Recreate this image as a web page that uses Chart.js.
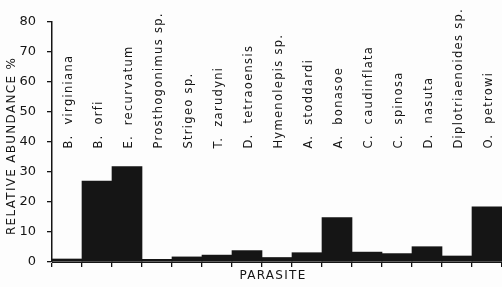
<!DOCTYPE html>
<html>
<head>
<meta charset="utf-8">
<script src="https://cdn.jsdelivr.net/npm/chart.js@4/dist/chart.umd.min.js"></script>
<style>
html,body{margin:0;padding:0;background:#fdfdfd;}
#wrap{width:502px;height:287px;position:relative;}
</style>
</head>
<body>
<div id="wrap"><canvas id="c" width="502" height="287"></canvas></div>
<script>
const categories = ["B.  virginiana","B.  orfi","E.  recurvatum","Prosthogonimus sp.","Strigeo sp.","T.  zarudyni","D.  tetraoensis","Hymenolepis sp.","A.  stoddardi","A.  bonasoe","C.  caudinflata","C.  spinosa","D.  nasuta","Diplotriaenoides sp.","O.  petrowi"];
const abundance = [1.0, 27.0, 31.8, 0.9, 1.7, 2.3, 3.8, 1.5, 3.1, 14.8, 3.3, 2.8, 5.1, 2.0, 18.4];
const yMin = 0, yMax = 80, yStep = 10;
const yTitle = "RELATIVE ABUNDANCE %";
const xTitle = "PARASITE";

const FONT = "'DejaVu Sans', sans-serif";
const INK = "#151515";

const catLabels = {
  id: 'catLabels',
  afterDatasetsDraw(chart) {
    const ctx = chart.ctx;
    const xs = chart.scales.x;
    const ys = chart.scales.y;
    const baseY = ys.getPixelForValue(37.8);
    ctx.save();
    ctx.fillStyle = INK;
    ctx.font = "11.5px " + FONT;
    if ('letterSpacing' in ctx) ctx.letterSpacing = "1.3px";
    ctx.textAlign = 'left';
    ctx.textBaseline = 'middle';
    categories.forEach((lab, i) => {
      const x = xs.getPixelForValue(i) + 2;
      ctx.save();
      ctx.translate(x, baseY);
      ctx.rotate(-Math.PI / 2);
      ctx.fillText(lab, 0, 0);
      ctx.restore();
    });
    ctx.restore();
  }
};

const titles = {
  id: 'titles',
  afterDraw(chart) {
    const ctx = chart.ctx;
    ctx.save();
    ctx.fillStyle = INK;
    ctx.font = "12px " + FONT;
    if ('letterSpacing' in ctx) ctx.letterSpacing = "1.3px";
    ctx.textAlign = 'center';
    ctx.textBaseline = 'middle';
    ctx.save();
    ctx.translate(12, 146);
    ctx.rotate(-Math.PI / 2);
    ctx.fillText(yTitle, 0, 0);
    ctx.restore();
    ctx.fillText(xTitle, 273, 276);
    ctx.restore();
  }
};

new Chart(document.getElementById('c'), {
  type: 'bar',
  data: {
    labels: categories,
    datasets: [{
      data: abundance,
      backgroundColor: INK,
      borderWidth: 0,
      barPercentage: 1.0,
      categoryPercentage: 1.0
    }]
  },
  options: {
    responsive: false,
    animation: false,
    devicePixelRatio: 1,
    layout: { padding: { top: 22, right: 0, left: 0, bottom: 0 } },
    plugins: { legend: { display: false }, tooltip: { enabled: false } },
    scales: {
      x: {
        grid: { display: true, offset: true, drawOnChartArea: false, drawTicks: true, tickLength: 5, color: INK, lineWidth: 1.3 },
        border: { display: true, color: INK, width: 1 },
        ticks: { display: false },
        afterFit(s) { s.height = 25; }
      },
      y: {
        min: yMin, max: yMax,
        grid: { display: true, drawOnChartArea: false, drawTicks: true, tickLength: 5, color: INK, lineWidth: 1.3 },
        border: { display: true, color: INK, width: 1.5 },
        ticks: { stepSize: yStep, color: INK, padding: 11, font: { family: FONT, size: 13 } },
        afterFit(s) { s.width = 52; }
      }
    }
  },
  plugins: [catLabels, titles]
});
</script>
</body>
</html>
